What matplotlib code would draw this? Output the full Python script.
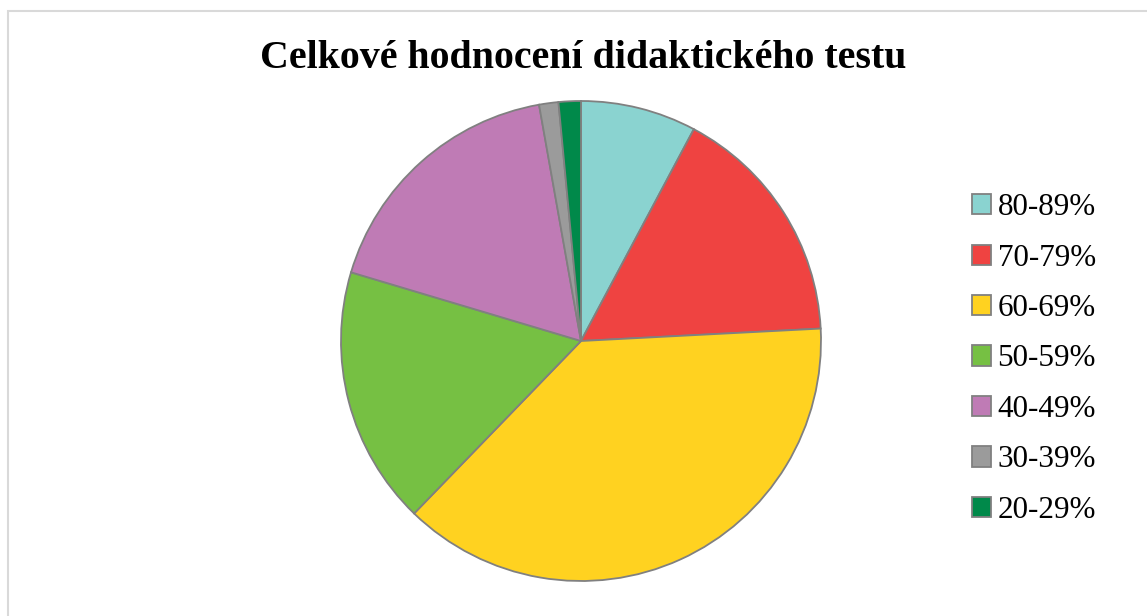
import matplotlib
matplotlib.use("Agg")
import matplotlib.pyplot as plt
from matplotlib.patches import Rectangle, Patch

categories = ["80-89%", "70-79%", "60-69%", "50-59%", "40-49%", "30-39%", "20-29%"]
shares = [7.8, 16.4, 38.1, 17.4, 17.6, 1.3, 1.5]
colors = ["#8AD3D0", "#EF4341", "#FFD220", "#76C043", "#BF7BB5", "#9B9B9B", "#00894A"]
title = "Celkové hodnocení didaktického testu"

W, H = 1147, 616
fig = plt.figure(figsize=(W / 100, H / 100), dpi=100)
fig.patch.set_facecolor("white")

# outer border
fig.add_artist(Rectangle((8 / W, -0.01), 1.02, 1 - 11 / H + 0.01, transform=fig.transFigure,
                         fill=False, edgecolor="#D9D9D9", linewidth=1.5))

cx, cy, r = 581, 341, 240
ax = fig.add_axes([(cx - r) / W, (H - cy - r) / H, 2 * r / W, 2 * r / H])
wedges, _ = ax.pie(shares, colors=colors, startangle=90, counterclock=False,
                   wedgeprops=dict(edgecolor="#808080", linewidth=1.3))
for w in wedges:
    w.set_clip_on(False)
ax.set_xlim(-1, 1)
ax.set_ylim(-1, 1)
ax.set_aspect("equal")
ax.axis("off")

fig.text(583 / W, 1 - 58 / H, title, ha="center", va="center",
         fontsize=28.7, fontweight="bold", family="Liberation Serif")

handles = [Patch(facecolor=c, edgecolor="#808080", linewidth=1.3) for c in colors]
leg = fig.legend(handles, categories, loc="center left",
                 bbox_to_anchor=(972 / W, 1 - 359 / H), frameon=False,
                 prop=dict(family="Liberation Serif", size=22.4),
                 handlelength=0.62, handleheight=0.62, handletextpad=0.2,
                 labelspacing=0.69, borderpad=0, borderaxespad=0)

fig.savefig("out.png", dpi=100)
